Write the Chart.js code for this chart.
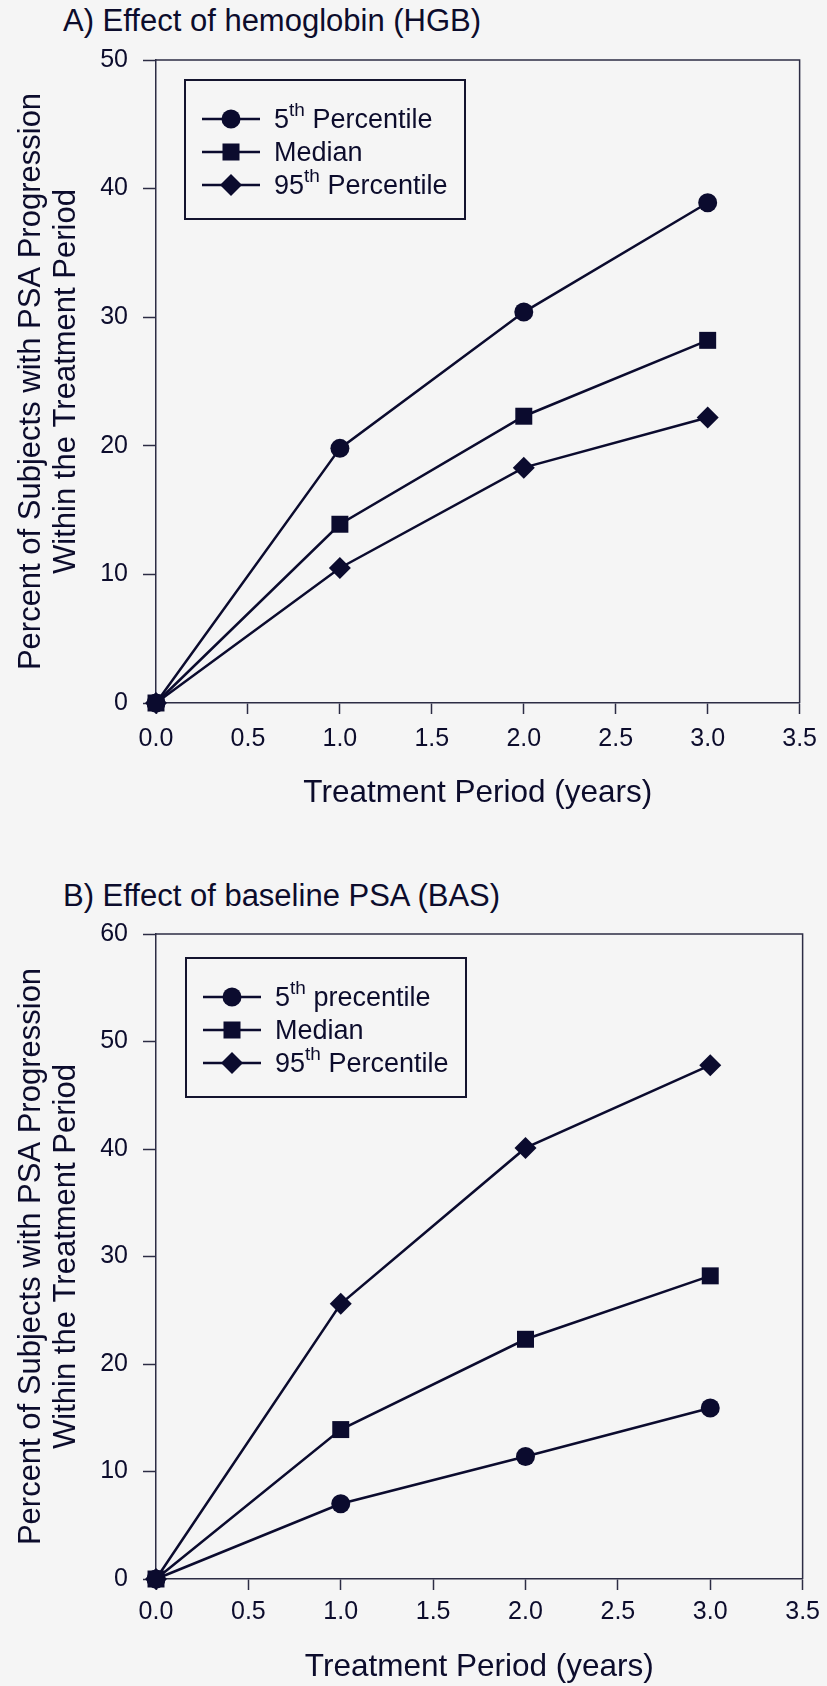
<!DOCTYPE html>
<html>
<head>
<meta charset="utf-8">
<script src="https://cdn.jsdelivr.net/npm/chart.js@4.4.1/dist/chart.umd.min.js"></script>
<style>
html,body{margin:0;padding:0;background:#f5f5f5}
body{width:827px;height:1686px;position:relative;overflow:hidden;
  font-family:'Liberation Sans',Arial,sans-serif;color:#0c0c2c}
.panel{position:absolute;left:0;width:827px;height:843px}
.panel canvas{position:absolute;left:0;top:0}
.ttl{position:absolute;left:63px;font-size:31px;line-height:30px;white-space:nowrap}
.lg{position:absolute;border:2px solid #14142e;box-sizing:border-box;width:282px;height:141px}
.lg-row{position:absolute;left:16px;height:34px;display:flex;align-items:center;
  font-size:27px;white-space:nowrap}
.lg-row svg{margin-right:14px}
.lg-row sup{font-size:19px;line-height:0;position:relative;top:-2px}
</style>
</head>
<body>
<div class="panel" id="pA" style="top:0">
  <div class="ttl" style="top:6px">A) Effect of hemoglobin (HGB)</div>
  <canvas id="cA" width="827" height="843"></canvas>
  <div class="lg" id="lgA" style="left:184px;top:79px"></div>
</div>
<div class="panel" id="pB" style="top:843px">
  <div class="ttl" style="top:38px">B) Effect of baseline PSA (BAS)</div>
  <canvas id="cB" width="827" height="843"></canvas>
  <div class="lg" id="lgB" style="left:185px;top:114px"></div>
</div>
<script>
// --- data ---------------------------------------------------------------
var years = [0, 1, 2, 3];

var hgbP5     = [0, 19.8, 30.4, 38.9];
var hgbMedian = [0, 13.9, 22.3, 28.2];
var hgbP95    = [0, 10.5, 18.3, 22.2];
var hgbNames  = ['5th Percentile', 'Median', '95th Percentile'];

var basP5     = [0, 7.0, 11.4, 15.9];
var basMedian = [0, 13.9, 22.3, 28.2];
var basP95    = [0, 25.6, 40.1, 47.8];
var basNames  = ['5th precentile', 'Median', '95th Percentile'];

var xTicks  = [0, 0.5, 1, 1.5, 2, 2.5, 3, 3.5];
var yTicksA = [0, 10, 20, 30, 40, 50];
var yTicksB = [0, 10, 20, 30, 40, 50, 60];

var xTitle = 'Treatment Period (years)';
var yTitle = ['Percent of Subjects with PSA Progression', 'Within the Treatment Period'];

// --- styling ------------------------------------------------------------
var INK = '#0b0b2e', AXIS = '#2c2c44', TXT = '#0c0c2c';
var FONT = "'Liberation Sans', Arial, sans-serif";
var STYLES = [
  { pointStyle: 'circle',  r: 9.5 },
  { pointStyle: 'rect',    r: 12 },
  { pointStyle: 'rectRot', r: 11 }
];

function pts(vals) { return vals.map(function (v, i) { return { x: years[i], y: v }; }); }

function datasets(names, series) {
  return series.map(function (s, i) {
    return {
      label: names[i], data: pts(s), borderColor: INK, backgroundColor: INK,
      borderWidth: 2.5, pointStyle: STYLES[i].pointStyle, pointRadius: STYLES[i].r,
      pointHoverRadius: STYLES[i].r, pointBorderWidth: 0, tension: 0, clip: false
    };
  });
}

// closes the box: top + right edges of the plot area
var frame = {
  id: 'frame',
  beforeDatasetsDraw: function (ch) {
    var a = ch.chartArea, c = ch.ctx;
    c.save(); c.strokeStyle = AXIS; c.lineWidth = 1.5;
    c.beginPath(); c.moveTo(a.left, a.top); c.lineTo(a.right, a.top); c.lineTo(a.right, a.bottom);
    c.stroke(); c.restore();
  }
};

function makeChart(id, names, series, yTicks, cfg) {
  var yMax = yTicks[yTicks.length - 1];
  return new Chart(document.getElementById(id), {
    type: 'line',
    data: { datasets: datasets(names, series) },
    plugins: [frame],
    options: {
      responsive: false, animation: false, devicePixelRatio: 1,
      layout: { padding: { top: cfg.top, right: 23, left: 0, bottom: 0 } },
      plugins: { legend: { display: false }, tooltip: { enabled: false } },
      scales: {
        x: {
          type: 'linear', min: 0, max: 3.5,
          afterBuildTicks: function (s) { s.ticks = xTicks.map(function (v) { return { value: v }; }); },
          afterFit: function (s) { s.height = cfg.xh; },
          ticks: { color: TXT, font: { family: FONT, size: 25 }, padding: cfg.xpad, maxRotation: 0,
                   callback: function (v) { return Number(v).toFixed(1); } },
          grid: { drawOnChartArea: false, drawTicks: true, tickLength: 11, tickColor: AXIS, tickWidth: 1.5 },
          border: { display: true, color: AXIS, width: 1.5 },
          title: { display: true, text: xTitle, color: TXT, font: { family: FONT, size: 31.5 },
                   padding: { top: 0, bottom: cfg.xtpad } }
        },
        y: {
          type: 'linear', min: 0, max: yMax,
          afterBuildTicks: function (s) { s.ticks = yTicks.map(function (v) { return { value: v }; }); },
          afterFit: function (s) { s.width = 156; },
          ticks: { color: TXT, font: { family: FONT, size: 25 }, padding: 15 },
          grid: { drawOnChartArea: false, drawTicks: true, tickLength: 13, tickColor: AXIS, tickWidth: 1.5 },
          border: { display: true, color: AXIS, width: 1.5 },
          title: { display: true, text: yTitle, color: TXT,
                   font: { family: FONT, size: 31, lineHeight: 1.12 }, padding: { top: 14, bottom: 0 } }
        }
      }
    }
  });
}

// legend drawn as html (box with line+marker symbols, superscript "th")
function symbol(style) {
  var m;
  if (style === 'circle') m = '<circle cx="29" cy="12" r="9.5" fill="' + INK + '"/>';
  else if (style === 'rect') m = '<rect x="20.5" y="3.5" width="17" height="17" fill="' + INK + '"/>';
  else m = '<polygon points="29,1 40,12 29,23 18,12" fill="' + INK + '"/>';
  return '<svg width="58" height="24" viewBox="0 0 58 24"><line x1="0" y1="12" x2="58" y2="12" stroke="' +
    INK + '" stroke-width="2.5"/>' + m + '</svg>';
}
function buildLegend(id, chart) {
  var el = document.getElementById(id), html = '';
  chart.data.datasets.forEach(function (d, i) {
    var txt = d.label.replace(/(\d+)th/, '$1<sup>th</sup>');
    html += '<div class="lg-row" style="top:' + (21 + i * 33) + 'px">' + symbol(d.pointStyle) +
      '<span>' + txt + '</span></div>';
  });
  el.innerHTML = html;
}

var chA = makeChart('cA', hgbNames, [hgbP5, hgbMedian, hgbP95], yTicksA,
  { top: 60, xh: 140, xpad: 10, xtpad: 31 });
var chB = makeChart('cB', basNames, [basP5, basMedian, basP95], yTicksB,
  { top: 91, xh: 107, xpad: 7, xtpad: 0 });
buildLegend('lgA', chA);
buildLegend('lgB', chB);
</script>
</body>
</html>
